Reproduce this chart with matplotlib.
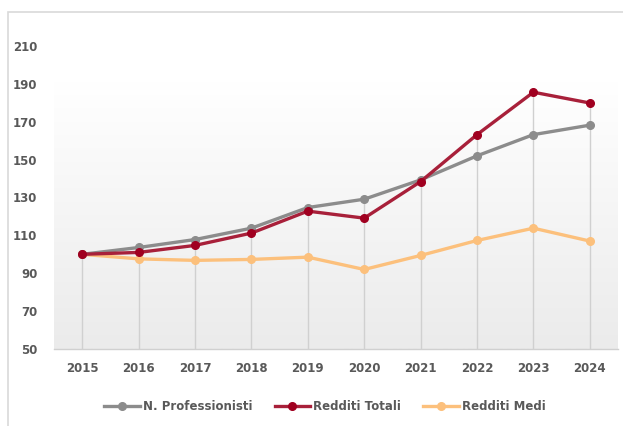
import numpy as np
import matplotlib.pyplot as plt
from matplotlib.patches import Rectangle
from matplotlib.colors import LinearSegmentedColormap

years = ["2015", "2016", "2017", "2018", "2019", "2020", "2021", "2022", "2023", "2024"]
professionisti = [100, 103.6, 107.8, 113.8, 124.7, 129.1, 139.3, 152.0, 163.2, 168.2]
redditi_totali = [100, 101.0, 104.7, 111.2, 122.8, 119.1, 138.4, 163.2, 185.6, 179.9]
redditi_medi = [100, 97.6, 96.8, 97.3, 98.5, 92.0, 99.4, 107.3, 113.8, 107.0]
y_ticks = [50, 70, 90, 110, 130, 150, 170, 190, 210]

plt.rcParams['font.family'] = ['Liberation Sans Narrow', 'DejaVu Sans']
text_color = "#595959"

fig = plt.figure(figsize=(6.23, 4.26), dpi=100)
fig.patches.append(Rectangle((8 / 623, -0.1), 1.2, 1 - 12 / 426 + 0.1,
                             transform=fig.transFigure, fill=False,
                             edgecolor="#d9d9d9", linewidth=1.2))
ax = fig.add_axes([54 / 623, 1 - 349 / 426, (618 - 54) / 623, (349 - 46) / 426])

x = np.arange(len(years))
ax.set_xlim(-0.5, len(years) - 0.5)
ax.set_ylim(50, 210)

# gradient background
grad = np.linspace(0, 1, 256).reshape(-1, 1)
ax.imshow(grad, extent=(-0.5, len(years) - 0.5, 50, 191), aspect="auto",
          cmap=LinearSegmentedColormap.from_list("g", ["#ebebeb", "#ffffff"]),
          origin="lower", zorder=0)

# drop lines
tops = np.max([professionisti, redditi_totali, redditi_medi], axis=0)
ax.vlines(x, 50, tops, color="#d0d0d0", linewidth=1, zorder=1)

ax.plot(x, professionisti, color="#8c8c8c", lw=2.4, marker="o", ms=5.5,
        label="N. Professionisti", zorder=3)
ax.plot(x, redditi_totali, color="#a8203a", lw=2.4, marker="o", ms=5.5,
        mfc="#a00020", mec="#a00020", label="Redditi Totali", zorder=4)
ax.plot(x, redditi_medi, color="#fcc07c", lw=2.4, marker="o", ms=5.5,
        label="Redditi Medi", zorder=2)

ax.set_xticks(x)
ax.set_xticklabels(years)
ax.set_yticks(y_ticks)
for lab in ax.get_xticklabels() + ax.get_yticklabels():
    lab.set_fontweight("bold")
    lab.set_color(text_color)
    lab.set_fontsize(8.5)
ax.tick_params(axis="x", length=0, pad=9)
ax.tick_params(axis="y", length=0, pad=12)

for s in ["top", "right", "left"]:
    ax.spines[s].set_visible(False)
ax.spines["bottom"].set_color("#d0d0d0")
ax.spines["bottom"].set_linewidth(1)
ax.patch.set_alpha(0)

leg = fig.legend(loc="center", bbox_to_anchor=(325 / 623, 1 - 407 / 426), ncol=3,
                 frameon=False, handlelength=3.0, columnspacing=1.9, handletextpad=0.25,
                 prop={"weight": "bold", "size": 8.5})
for t in leg.get_texts():
    t.set_color(text_color)

fig.savefig("out.png", dpi=100)
